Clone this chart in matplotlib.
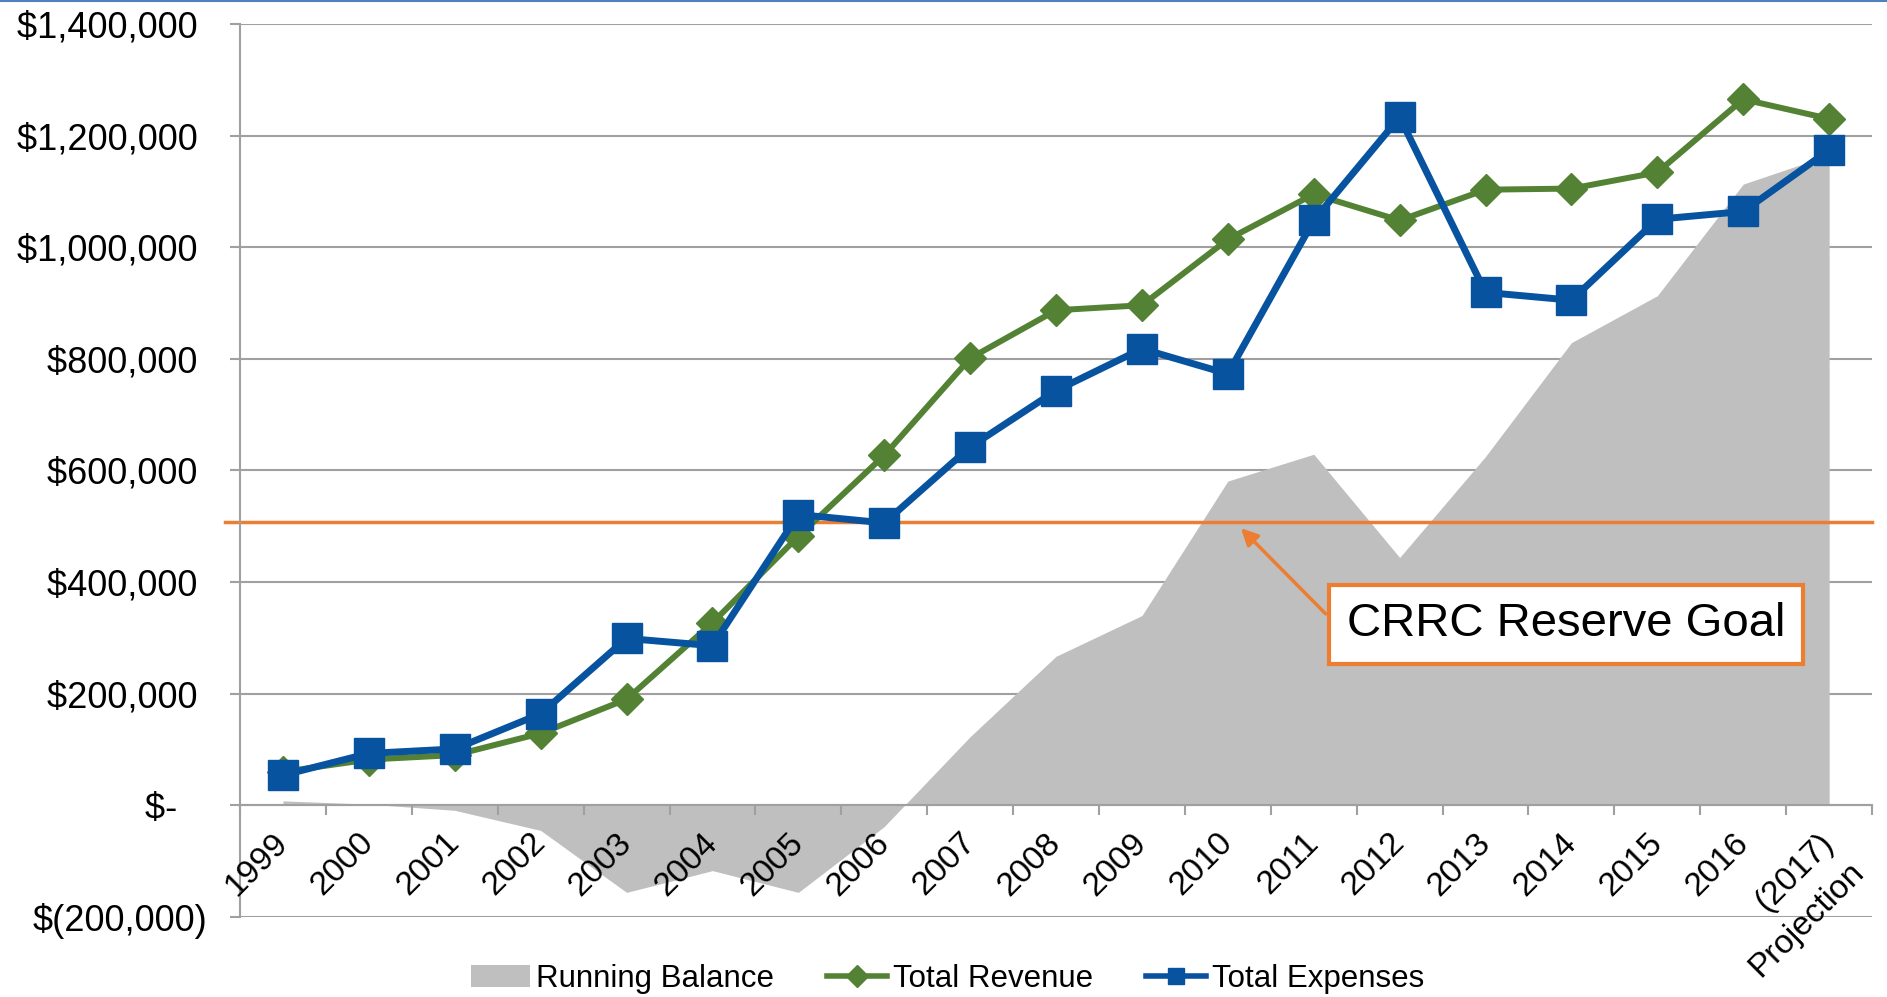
import matplotlib
matplotlib.use("Agg")
import matplotlib.pyplot as plt
import matplotlib.transforms as mtransforms
from matplotlib.lines import Line2D
from matplotlib.patches import Patch
import numpy as np

plt.rcParams["font.family"] = ["Liberation Sans", "DejaVu Sans"]

# Data
years = ["1999", "2000", "2001", "2002", "2003", "2004", "2005", "2006", "2007",
         "2008", "2009", "2010", "2011", "2012", "2013", "2014", "2015", "2016",
         "(2017)\nProjection"]
revenue = [60000, 82000, 90000, 129000, 190000, 327000, 482000, 627000, 801000,
           887000, 896000, 1014000, 1095000, 1048000, 1103000, 1105000, 1134000,
           1265000, 1230000]
expenses = [54000, 93000, 101000, 164000, 299000, 286000, 521000, 506000, 642000,
            743000, 818000, 773000, 1048000, 1233000, 919000, 905000, 1050000,
            1064000, 1174000]
balance = [8000, 2000, -9000, -45000, -156000, -117000, -156000, -38000, 123000,
           267000, 340000, 581000, 629000, 444000, 625000, 829000, 913000,
           1113000, 1165000]
reserve_goal = 507000
y_ticks = [-200000, 0, 200000, 400000, 600000, 800000, 1000000, 1200000, 1400000]

GREEN = "#548235"
BLUE = "#0753A0"
GRAY = "#BFBFBF"
ORANGE = "#ED7D31"
AXIS = "#A0A0A0"


def money(v):
    if v == 0:
        return "$-   "
    if v < 0:
        return "$({:,})".format(-v)
    return "${:,} ".format(v)


x = np.arange(len(years))

fig = plt.figure(figsize=(18.87, 9.97), dpi=100)
ax = fig.add_axes([0.1272, 0.0803, 0.8649, 0.8957])

ax.fill_between(x, balance, 0, color=GRAY, lw=0, zorder=1)
ax.plot([-0.009, 1], [reserve_goal, reserve_goal], color=ORANGE, lw=2.5,
        transform=ax.get_yaxis_transform(), clip_on=False, zorder=2)
ax.plot(x, revenue, color=GREEN, lw=4.3, marker="D", ms=16, zorder=4)
ax.plot(x, expenses, color=BLUE, lw=5, marker="s", ms=21, zorder=5)

ax.set_xlim(-0.5, len(years) - 0.5)
ax.set_ylim(y_ticks[0], y_ticks[-1])

ax.tick_params(axis="y", length=7.5, width=1.5, color=AXIS, labelsize=26, pad=16)
ax.tick_params(axis="x", which="minor", length=7.5, width=1.5, color=AXIS)

ax.set_yticks(y_ticks)
ax.set_yticklabels([money(v) for v in y_ticks])
ax.set_axisbelow(True)
ax.xaxis.set_zorder(3)
ax.yaxis.grid(True, color=AXIS, lw=1.5)

# category boundaries get the tick marks, labels sit under the centres
ax.set_xticks([])
ax.set_xticks(np.arange(-0.5, len(years), 1), minor=True)
shift = mtransforms.ScaledTranslation(-7.8 / 72, -15.7 / 72, fig.dpi_scale_trans)
for i, lab in enumerate(years):
    ax.text(x[i], 0, lab, transform=ax.transData + shift, rotation=45,
            ha="right", va="top", rotation_mode="anchor",
            multialignment="right", linespacing=1.45,
            fontsize=24, zorder=3, clip_on=False)

for s in ["top", "right"]:
    ax.spines[s].set_visible(False)
ax.spines["left"].set_color(AXIS)
ax.spines["left"].set_linewidth(1.5)
ax.spines["bottom"].set_position(("data", 0))
ax.spines["bottom"].set_color(AXIS)
ax.spines["bottom"].set_linewidth(1.5)

ax.annotate("CRRC Reserve Goal", xy=(11.13, 500000), xytext=(14.94, 324000),
            fontsize=34, ha="center", va="center", zorder=6,
            bbox=dict(boxstyle="square,pad=0.38", fc="white", ec=ORANGE, lw=3),
            arrowprops=dict(arrowstyle="-|>", color=ORANGE, lw=2.5,
                            mutation_scale=25, relpos=(0, 0.25)))

handles = [Patch(facecolor=GRAY, edgecolor="none"),
           Line2D([], [], color=GREEN, lw=4, marker="D", ms=11),
           Line2D([], [], color=BLUE, lw=4, marker="s", ms=11)]
fig.legend(handles, ["Running Balance", "Total Revenue", "Total Expenses"],
           loc="center", bbox_to_anchor=(0.502, 0.018), ncol=3, frameon=False,
           fontsize=22.5, handlelength=1.9, handletextpad=0.2, columnspacing=1.7)

fig.add_artist(Line2D([0, 1], [0.999, 0.999], transform=fig.transFigure,
                      color="#4F81BD", lw=1.5))

fig.savefig("out.png", dpi=100)
